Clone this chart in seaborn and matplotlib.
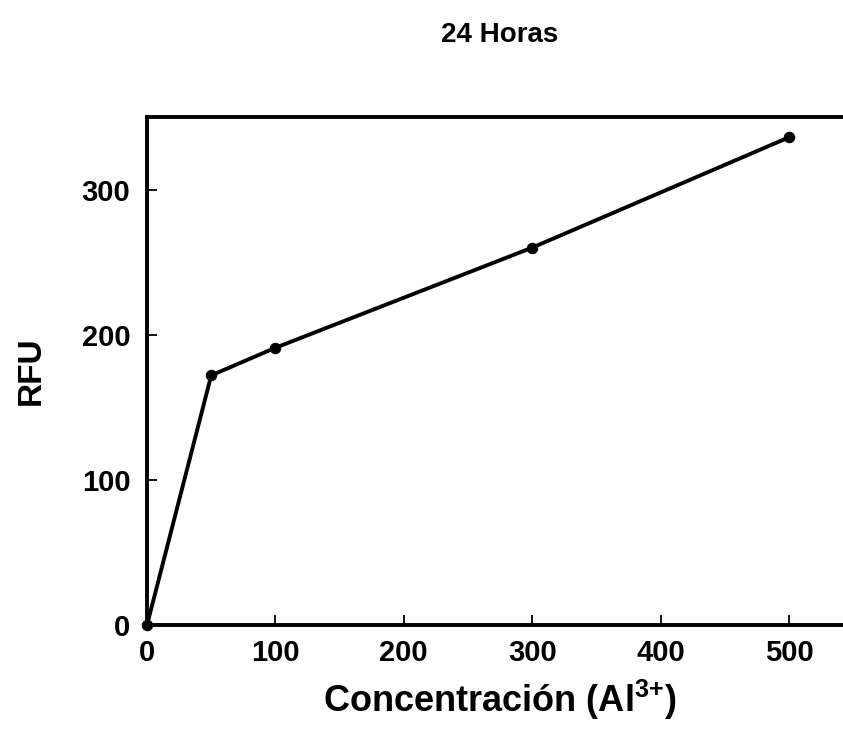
import matplotlib
matplotlib.use("Agg")
import matplotlib.pyplot as plt
import seaborn as sns
import pandas as pd

# Fluorescence readings after 24 h
concentration = [0, 50, 100, 300, 500]
rfu = [0, 172, 191, 260, 336]
x_ticks = [0, 100, 200, 300, 400, 500]
y_ticks = [0, 100, 200, 300]

sns.set_theme(style="ticks")
plt.rcParams["font.family"] = ["Liberation Sans", "DejaVu Sans"]
plt.rcParams["mathtext.fontset"] = "custom"
plt.rcParams["mathtext.rm"] = "Liberation Sans:bold"
plt.rcParams["mathtext.bf"] = "Liberation Sans:bold"
for key in ("text.color", "axes.labelcolor", "xtick.color", "ytick.color", "axes.edgecolor"):
    plt.rcParams[key] = "black"

df = pd.DataFrame({"conc": concentration, "rfu": rfu})

fig = plt.figure(figsize=(8.43, 7.48), dpi=100)
ax = fig.add_axes([0.1744, 0.1644, 0.8377, 0.6792])

sns.lineplot(data=df, x="conc", y="rfu", ax=ax, color="black", linewidth=2.8,
             marker="o", markersize=7.5, markeredgecolor="black", clip_on=False)

ax.set_xlim(0, 550)
ax.set_ylim(0, 350)
ax.set_xticks(x_ticks)
ax.set_yticks(y_ticks)
ax.set_xticklabels([str(v) for v in x_ticks], fontsize=21, fontweight="bold")
ax.set_yticklabels([str(v) for v in y_ticks], fontsize=21, fontweight="bold")
ax.tick_params(axis="both", direction="in", length=7, width=1.3, color="black",
               bottom=True, left=True, top=False, right=False)
ax.tick_params(axis="x", pad=10)
ax.tick_params(axis="y", pad=12)

for s in ax.spines.values():
    s.set_visible(True)
    s.set_linewidth(2.8)
    s.set_color("black")

ax.set_xlabel(r"Concentración (Al$^{\mathbf{3{+}}}$)", fontsize=26, fontweight="bold", labelpad=8)
ax.set_ylabel("RFU", fontsize=24, fontweight="bold", labelpad=25)
ax.set_title("24 Horas", fontsize=20, fontweight="bold", pad=54)

fig.savefig("out.png", dpi=100)
